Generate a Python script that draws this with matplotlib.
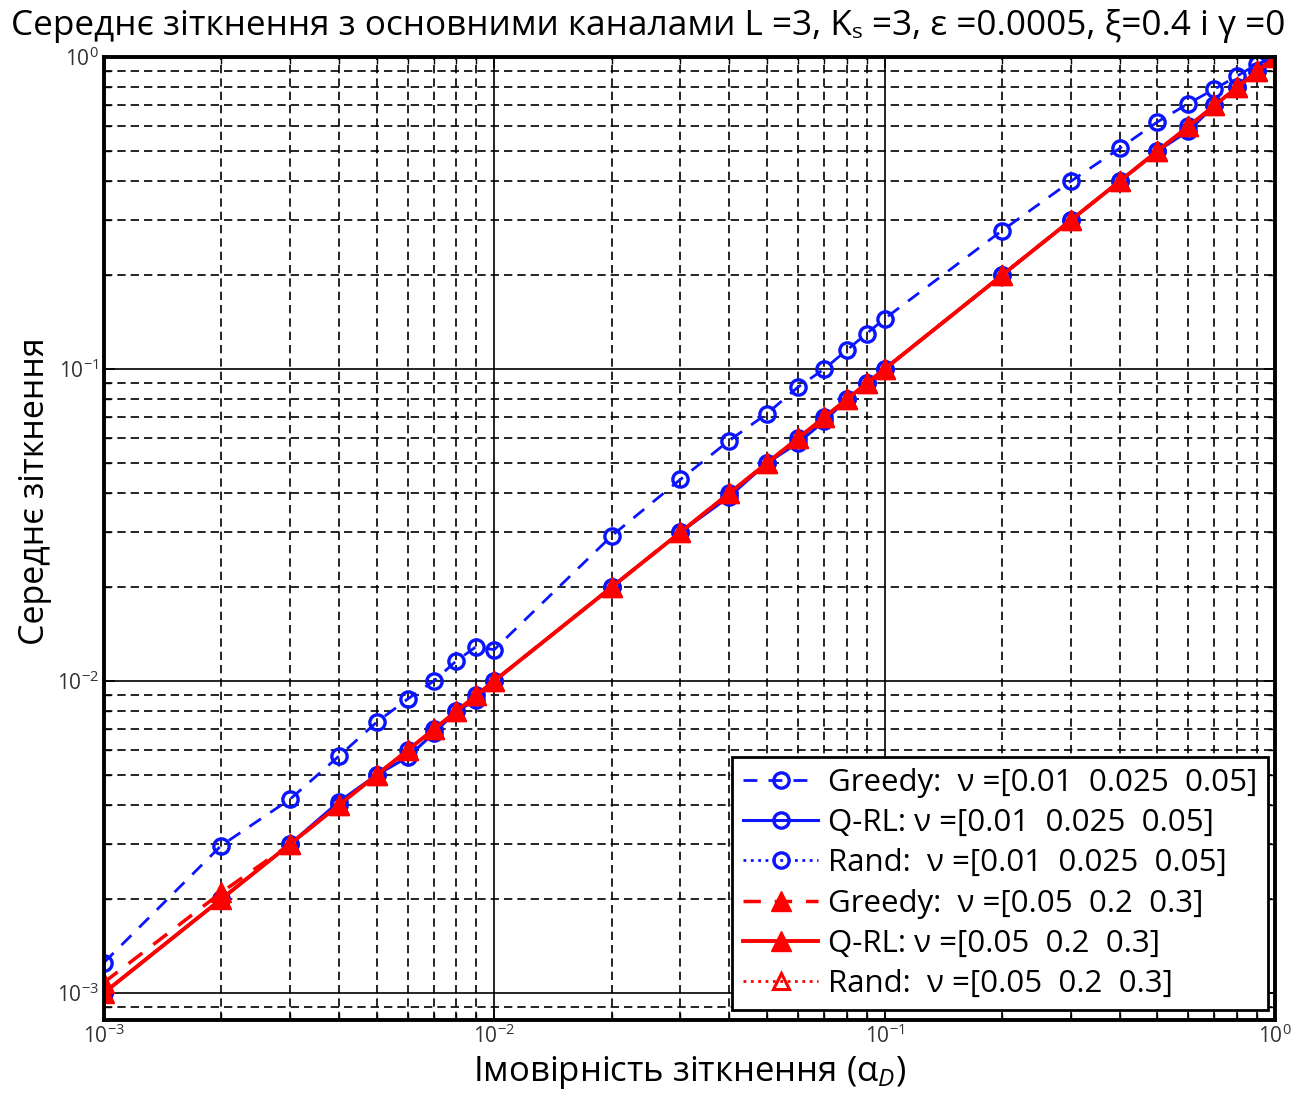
import matplotlib
matplotlib.use("Agg")
import matplotlib.pyplot as plt
from matplotlib.ticker import LogLocator

plt.rcParams['font.family'] = ['Open Sans', 'DejaVu Sans']
plt.rcParams['mathtext.fontset'] = 'custom'
plt.rcParams['mathtext.rm'] = 'Open Sans'
plt.rcParams['mathtext.it'] = 'Open Sans:italic'

# collision probability on the x axis
alpha = [0.001, 0.002, 0.003, 0.004, 0.005, 0.006, 0.007, 0.008, 0.009,
         0.01, 0.02, 0.03, 0.04, 0.05, 0.06, 0.07, 0.08, 0.09,
         0.1, 0.2, 0.3, 0.4, 0.5, 0.6, 0.7, 0.8, 0.9, 1.0]

# nu = [0.01 0.025 0.05]
greedy_b = [0.00125, 0.00297, 0.00418, 0.00574, 0.00738, 0.00875, 0.0100, 0.0116, 0.0129,
            0.0126, 0.0292, 0.0443, 0.059, 0.072, 0.0875, 0.100, 0.115, 0.130,
            0.145, 0.278, 0.40, 0.51, 0.62, 0.71, 0.79, 0.87, 0.95, 1.0]
qrl_b = [0.0010, 0.0020, 0.0030, 0.0041, 0.0050, 0.0057, 0.0068, 0.0080, 0.0087,
         0.0100, 0.0200, 0.0300, 0.0390, 0.0500, 0.0580, 0.0680, 0.0800, 0.0900,
         0.100, 0.200, 0.300, 0.400, 0.500, 0.580, 0.700, 0.800, 0.900, 1.0]
rand_b = [0.0010, 0.0020, 0.0030, 0.0040, 0.0050, 0.0060, 0.0070, 0.0080, 0.0090,
          0.0100, 0.0200, 0.0300, 0.0400, 0.0500, 0.0600, 0.0700, 0.0800, 0.0900,
          0.100, 0.200, 0.300, 0.400, 0.500, 0.600, 0.700, 0.800, 0.900, 1.0]

# nu = [0.05 0.2 0.3]
greedy_r = [0.00108, 0.0021, 0.0030, 0.0040, 0.0050, 0.0060, 0.0070, 0.0080, 0.0090,
            0.0100, 0.0200, 0.0300, 0.0400, 0.0500, 0.0600, 0.0700, 0.0800, 0.0900,
            0.100, 0.200, 0.300, 0.400, 0.500, 0.600, 0.700, 0.800, 0.900, 1.0]
qrl_r = [0.0010, 0.0020, 0.0030, 0.0040, 0.0050, 0.0060, 0.0070, 0.0080, 0.0090,
         0.0100, 0.0200, 0.0300, 0.0400, 0.0500, 0.0600, 0.0700, 0.0800, 0.0900,
         0.100, 0.200, 0.300, 0.400, 0.500, 0.600, 0.700, 0.800, 0.900, 1.0]
rand_r = [0.0010, 0.0020, 0.0030, 0.0040, 0.0050, 0.0060, 0.0070, 0.0080, 0.0090,
          0.0100, 0.0200, 0.0300, 0.0400, 0.0500, 0.0600, 0.0700, 0.0800, 0.0900,
          0.100, 0.200, 0.300, 0.400, 0.500, 0.600, 0.700, 0.800, 0.900, 1.0]

labels = ["Greedy:  ν =[0.01  0.025  0.05]",
          "Q-RL: ν =[0.01  0.025  0.05]",
          "Rand:  ν =[0.01  0.025  0.05]",
          "Greedy:  ν =[0.05  0.2  0.3]",
          "Q-RL: ν =[0.05  0.2  0.3]",
          "Rand:  ν =[0.05  0.2  0.3]"]

fig = plt.figure(figsize=(12.97, 10.99), dpi=100)
ax = fig.add_axes([0.080, 0.072, 0.903, 0.876])

blue = '#0a14ff'
red = '#ff0000'
ax.plot(alpha, greedy_b, '--o', color=blue, lw=2.0, ms=11, mfc='none', mew=2.4, dashes=(5, 4), label=labels[0])
ax.plot(alpha, qrl_b, '-o', color=blue, lw=2.2, ms=11, mfc='none', mew=2.4, label=labels[1])
ax.plot(alpha, rand_b, ':o', color=blue, lw=2.0, ms=11, mfc='none', mew=2.4, label=labels[2])
ax.plot(alpha, greedy_r, '--^', color=red, lw=2.5, ms=14, mfc=red, dashes=(5, 4), label=labels[3])
ax.plot(alpha, qrl_r, '-^', color=red, lw=2.8, ms=14, mfc=red, label=labels[4])
ax.plot(alpha, rand_r, ':^', color=red, lw=2.0, ms=12, mfc='none', mew=2.2, label=labels[5])

ax.set_xscale('log')
ax.set_yscale('log')
ax.set_xlim(1e-3, 1)
ax.set_ylim(8.2e-4, 1)
ax.xaxis.set_minor_locator(LogLocator(base=10, subs=range(2, 10)))
ax.yaxis.set_minor_locator(LogLocator(base=10, subs=range(2, 10)))

ax.grid(which='major', color='black', linestyle='-', lw=1.2)
ax.grid(which='minor', color='black', linestyle=(0, (5, 3)), lw=1.2)
ax.set_axisbelow(True)

ax.tick_params(which='both', direction='in', top=True, right=True, labelsize=15,
               labelcolor='#333333')
ax.tick_params(which='major', length=8, width=1.2)
ax.tick_params(which='minor', length=5, width=1.0)
for s in ax.spines.values():
    s.set_linewidth(2.8)

fig.text(0.5, 0.968, "Середнє зіткнення з основними каналами L =3, Kₛ =3, ε =0.0005, ξ=0.4 і γ =0",
         fontsize=25.3, ha='center', va='baseline')
ax.set_xlabel("Імовірність зіткнення (α$_D$)", fontsize=25, labelpad=4)
ax.set_ylabel("Середнє зіткнення", fontsize=24.5)
ax.yaxis.set_label_coords(-0.044, 0.549)

leg = ax.legend(loc='lower right', bbox_to_anchor=(0.994, 0.010), fontsize=22.5,
                frameon=True, fancybox=False, framealpha=1, edgecolor='black',
                handlelength=2.4, labelspacing=0.33, borderaxespad=0, handletextpad=0.3,
                borderpad=0.35)
leg.get_frame().set_linewidth(2.0)

fig.savefig("out.png", dpi=100, facecolor='white')
